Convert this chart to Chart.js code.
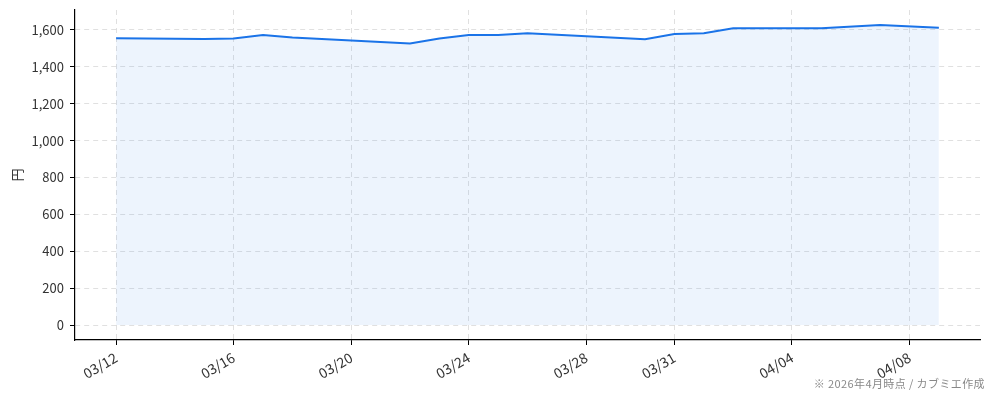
<!DOCTYPE html>
<html>
<head>
<meta charset="utf-8">
<script src="https://cdn.jsdelivr.net/npm/chart.js@4.4.0/dist/chart.umd.min.js"></script>
<style>
  html, body { margin: 0; padding: 0; background: #fff; }
  #wrap { width: 994px; height: 401px; position: relative; }
</style>
</head>
<body>
<div id="wrap"><canvas id="mychart"></canvas></div>
<script>
// data (円)
const dates = ['03/12', '03/15', '03/16', '03/17', '03/18', '03/22', '03/23', '03/24', '03/25', '03/26',
               '03/30', '03/31', '04/01', '04/02', '04/05', '04/07', '04/09'];
const prices = [1555, 1551, 1553, 1573, 1559, 1526, 1554, 1573, 1573, 1582,
                1550, 1578, 1582, 1609, 1609, 1627, 1612];
const xTickLabels = ['03/12', '03/16', '03/20', '03/24', '03/28', '03/31', '04/04', '04/08'];
const yTicks = [0, 200, 400, 600, 800, 1000, 1200, 1400, 1600];
const note = '※ 2026年4月時点 / カブミエ作成';

const YEAR = 2026;
const dayOf = (s) => {
    const [m, d] = s.split('/').map(Number);
    return (Date.UTC(YEAR, m - 1, d) - Date.UTC(YEAR, 2, 12)) / 86400000;
};
const points = dates.map((d, i) => ({x: dayOf(d), y: prices[i]}));
const xTickPos = xTickLabels.map(dayOf);

const FONT = '"Noto Sans CJK JP", "Noto Sans", sans-serif';

const notePlugin = {
    id: 'note',
    afterDraw(chart) {
        const ctx = chart.ctx;
        ctx.save();
        ctx.font = '11px ' + FONT;
        ctx.letterSpacing = '0.4px';
        ctx.fillStyle = '#888';
        ctx.textAlign = 'right';
        ctx.textBaseline = 'alphabetic';
        ctx.fillText(note, 985, 388);
        ctx.restore();
    }
};

const gridStyle = {
    color: 'rgba(0,0,0,0.12)',
    tickColor: '#000',
    tickLength: 5,
    tickBorderDash: [],
};

const config = {
    type: 'line',
    data: {
        datasets: [
            {
                label: '株価',
                data: points,
                borderColor: '#1a73e8',
                borderWidth: 2,
                backgroundColor: 'rgba(26,115,232,0.08)',
                fill: 'origin',
                pointRadius: 0,
                tension: 0,
            }
        ]
    },
    options: {
        responsive: false,
        animation: false,
        devicePixelRatio: 1,
        layout: {
            padding: {left: 0, right: 14, top: 10, bottom: 0}
        },
        plugins: {
            legend: {display: false},
            tooltip: {enabled: false},
        },
        scales: {
            x: {
                type: 'linear',
                min: -1.4,
                max: 29.4,
                afterBuildTicks: (axis) => {
                    axis.ticks = xTickPos.map(v => ({value: v}));
                },
                afterFit: (axis) => {
                    axis.height = 61;
                    axis.paddingLeft = 0;
                    axis.paddingRight = 0;
                },
                ticks: {
                    autoSkip: false,
                    maxRotation: 30,
                    minRotation: 30,
                    padding: 4,
                    color: '#333',
                    font: {size: 14, family: FONT},
                    callback: (v) => {
                        const i = xTickPos.indexOf(v);
                        return i >= 0 ? xTickLabels[i] : '';
                    },
                },
                grid: gridStyle,
                border: {display: true, color: '#000', width: 1.2, dash: [5, 4]},
            },
            y: {
                min: -81,
                max: 1708,
                afterBuildTicks: (axis) => {
                    axis.ticks = yTicks.map(v => ({value: v}));
                },
                afterFit: (axis) => {
                    axis.width = 75;
                    axis.paddingTop = 0;
                    axis.paddingBottom = 0;
                },
                ticks: {
                    padding: 6,
                    color: '#333',
                    font: {size: 13, family: FONT},
                    callback: (v) => v.toLocaleString('en-US'),
                },
                title: {
                    display: true,
                    text: '円',
                    color: '#333',
                    font: {size: 13, family: FONT},
                    padding: {top: 9, bottom: 0},
                },
                grid: gridStyle,
                border: {display: true, color: '#000', width: 1.2, dash: [5, 4]},
            }
        }
    },
    plugins: [notePlugin],
};

const canvas = document.getElementById('mychart');
canvas.width = 994;
canvas.height = 401;
new Chart(canvas.getContext('2d'), config);
</script>
</body>
</html>
